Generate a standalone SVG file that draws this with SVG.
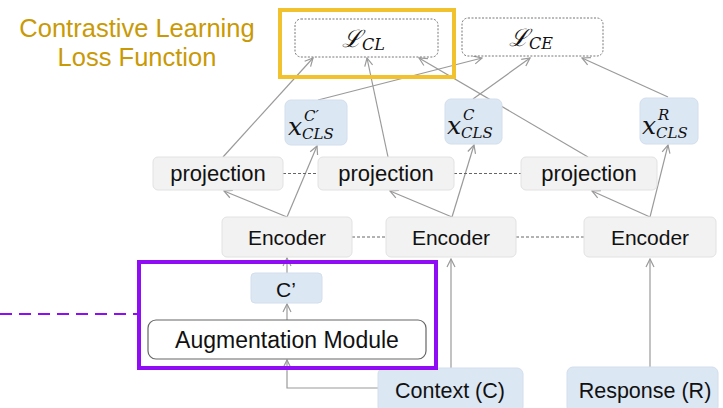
<svg xmlns="http://www.w3.org/2000/svg" width="723" height="408" viewBox="0 0 723 408">
  <style>
    .sans { font-family: "Liberation Sans", Arial, sans-serif; fill: #111; }
    .math { font-family: "DejaVu Serif", "Liberation Serif", serif; font-style: italic; fill: #111; }
    .gray { fill: #f2f2f2; stroke: #e2e2e2; stroke-width: 1; }
    .blue { fill: #dce7f4; stroke: #d3deec; stroke-width: 1; }
    .loss { fill: #ffffff; stroke: #777; stroke-width: 1; stroke-dasharray: 2 1.5; }
    .conn { fill: none; stroke: #9a9a9a; stroke-width: 1.2; }
    .arrow { marker-end: url(#open); }
    .link { fill: none; stroke: #666; stroke-width: 1; stroke-dasharray: 3 2; }
  </style>
  <defs>
    <marker id="open" viewBox="0 0 10 10" refX="9" refY="5" markerWidth="10" markerHeight="10" markerUnits="userSpaceOnUse" orient="auto">
      <path d="M1,1 L9,5 L1,9" fill="none" stroke="#9a9a9a" stroke-width="1.2"/>
    </marker>
  </defs>

  <rect width="723" height="408" fill="#ffffff"/>

  <!-- connectors -->
  <g id="connectors">
    <path class="conn arrow" d="M451,368 L451,259"/>
    <path class="conn arrow" d="M650,367 L650,259"/>
    <path class="conn arrow" d="M378,388 L287,388 L287,360"/>
    <path class="conn arrow" d="M287,320 L287,304"/>
    <path class="conn arrow" d="M287,273 L287,258"/>
    <path class="conn arrow" d="M287,217 L224,191"/>
    <path class="conn arrow" d="M287,217 L317,146"/>
    <path class="conn arrow" d="M452,217 L390,191"/>
    <path class="conn arrow" d="M452,217 L474,145"/>
    <path class="conn arrow" d="M650,217 L592,191"/>
    <path class="conn arrow" d="M650,217 L668,145"/>
    <path class="conn arrow" d="M223,157 L313,58"/>
    <path class="conn arrow" d="M318,100 L482,58"/>
    <path class="conn arrow" d="M388,157 L367,58"/>
    <path class="conn arrow" d="M588,157 L419,58"/>
    <path class="conn arrow" d="M473,99 L530,58"/>
    <path class="conn arrow" d="M668,97 L582,58"/>
    <!-- shared-weight links -->
    <path class="link" d="M283,173.5 L318,173.5"/>
    <path class="link" d="M454,173.5 L521,173.5"/>
    <path class="link" d="M352,237 L386,237"/>
    <path class="link" d="M516,237 L584,237"/>
  </g>

  <!-- losses -->
  <g id="loss-cl">
    <rect class="loss" x="295" y="19" width="143" height="38" rx="6"/>
    <text class="math" x="342" y="47" font-size="24">ℒ<tspan font-size="16" dy="3">CL</tspan></text>
  </g>
  <g id="loss-ce">
    <rect class="loss" x="462" y="18" width="141" height="38" rx="6"/>
    <text class="math" x="509" y="46" font-size="24">ℒ<tspan font-size="16" dy="3">CE</tspan></text>
  </g>

  <!-- CLS representations -->
  <g id="cls-aug">
    <rect class="blue" x="285" y="100" width="62" height="45" rx="6"/>
    <text class="math" x="288" y="135" font-size="25">x</text>
    <text class="math" x="302" y="139" font-size="15">CLS</text>
    <text class="math" x="304" y="121" font-size="15">C′</text>
  </g>
  <g id="cls-context">
    <rect class="blue" x="445" y="99" width="57" height="45" rx="6"/>
    <text class="math" x="447" y="134" font-size="25">x</text>
    <text class="math" x="461" y="138" font-size="15">CLS</text>
    <text class="math" x="463" y="120" font-size="15">C</text>
  </g>
  <g id="cls-response">
    <rect class="blue" x="640" y="98" width="58" height="46" rx="6"/>
    <text class="math" x="642" y="134" font-size="25">x</text>
    <text class="math" x="656" y="138" font-size="15">CLS</text>
    <text class="math" x="658" y="120" font-size="15">R</text>
  </g>

  <!-- projection heads -->
  <g id="proj-1">
    <rect class="gray" x="153" y="157" width="130" height="33" rx="5"/>
    <text class="sans" x="218" y="181" font-size="22" text-anchor="middle">projection</text>
  </g>
  <g id="proj-2">
    <rect class="gray" x="318" y="157" width="136" height="33" rx="5"/>
    <text class="sans" x="386" y="181" font-size="22" text-anchor="middle">projection</text>
  </g>
  <g id="proj-3">
    <rect class="gray" x="521" y="157" width="136" height="33" rx="5"/>
    <text class="sans" x="589" y="181" font-size="22" text-anchor="middle">projection</text>
  </g>

  <!-- encoders -->
  <g id="enc-1">
    <rect class="gray" x="222" y="217" width="130" height="40" rx="5"/>
    <text class="sans" x="287" y="245" font-size="21" text-anchor="middle">Encoder</text>
  </g>
  <g id="enc-2">
    <rect class="gray" x="386" y="217" width="130" height="40" rx="5"/>
    <text class="sans" x="451" y="245" font-size="21" text-anchor="middle">Encoder</text>
  </g>
  <g id="enc-3">
    <rect class="gray" x="584" y="217" width="132" height="40" rx="5"/>
    <text class="sans" x="650" y="245" font-size="21" text-anchor="middle">Encoder</text>
  </g>

  <!-- augmentation branch -->
  <g id="c-prime">
    <rect class="blue" x="251" y="273" width="71" height="30" rx="4"/>
    <text class="sans" x="286" y="297" font-size="21" text-anchor="middle">C’</text>
  </g>
  <g id="augmentation">
    <rect x="148" y="320" width="278" height="39" rx="8" fill="#ffffff" stroke="#666" stroke-width="1.2"/>
    <text class="sans" x="287" y="348" font-size="23" text-anchor="middle">Augmentation Module</text>
  </g>

  <!-- inputs -->
  <g id="context">
    <rect class="blue" x="378" y="368" width="145" height="45" rx="6"/>
    <text class="sans" x="450" y="398" font-size="21.5" text-anchor="middle">Context (C)</text>
  </g>
  <g id="response">
    <rect class="blue" x="567" y="367" width="151" height="46" rx="6"/>
    <text class="sans" x="645" y="398" font-size="21.5" text-anchor="middle">Response (R)</text>
  </g>

  <!-- highlights -->
  <g id="highlight-contrastive">
    <rect x="280" y="10" width="174" height="67" fill="none" stroke="#f2c12e" stroke-width="4"/>
    <text class="sans" x="137" y="37" font-size="25.5" text-anchor="middle" style="fill:#c99a06">Contrastive Learning</text>
    <text class="sans" x="137" y="66" font-size="25.5" text-anchor="middle" style="fill:#c99a06">Loss Function</text>
  </g>
  <g id="highlight-augmentation">
    <rect x="139" y="262" width="297" height="106" fill="none" stroke="#8f0cf5" stroke-width="4"/>
    <path d="M0,314 L137,314" fill="none" stroke="#8f0cf5" stroke-width="2" stroke-dasharray="12 7"/>
  </g>
</svg>
